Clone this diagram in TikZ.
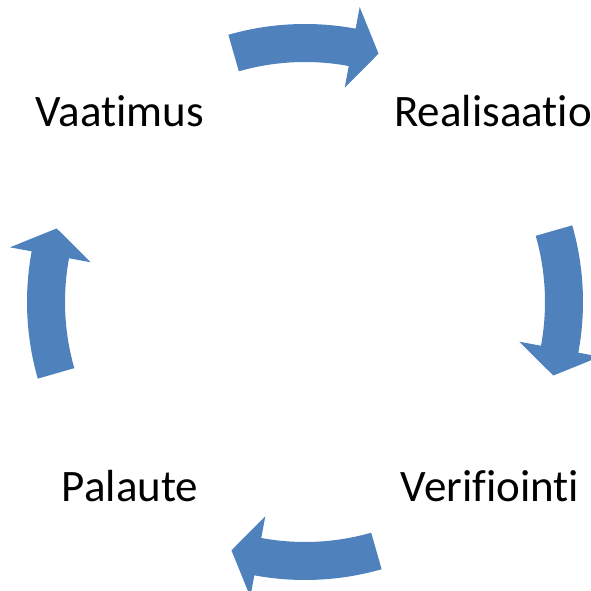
\documentclass[tikz,border=0pt]{standalone}
\usepackage{fontspec}
\setmainfont{Carlito}[Ligatures=NoCommon]
\usepackage{tikz}
\usetikzlibrary{positioning}
\definecolor{cycleBlue}{RGB}{79,129,189}

\begin{document}
\begin{tikzpicture}[
        x=1pt, y=1pt,
        label/.style={inner sep=0pt, anchor=base, font=\fontsize{45}{54}\selectfont},
        cyclearrow/.style={fill=cycleBlue, draw=none}
    ]
        \useasboundingbox (0,0) rectangle (591,591);

        % Cycle centre
        \coordinate (centre) at (305,289);

        % Steps
        \node[label] (vaatimus) at (120,464) {Vaatimus};
        \node[label, anchor=base west] (realisaatio) at (394,464) {Realisaatio};
        \node[label] (verifiointi) at (490,89) {Verifiointi};
        \node[label] (palaute) at (130,89) {Palaute};

        % Curved arrows, clockwise
        \begin{scope}[shift={(centre)}]
            \foreach \m in {90,0,-90,180}{
                \fill[cyclearrow] (\m+16:278) arc[start angle=\m+16, end angle=\m-10.5, radius=278]
                    -- (\m-10.5:300) -- (\m-16.5:259) -- (\m-10.5:218) -- (\m-10.5:240)
                    arc[start angle=\m-10.5, end angle=\m+16, radius=240] -- cycle;
            }
        \end{scope}
    \end{tikzpicture}
\end{document}
